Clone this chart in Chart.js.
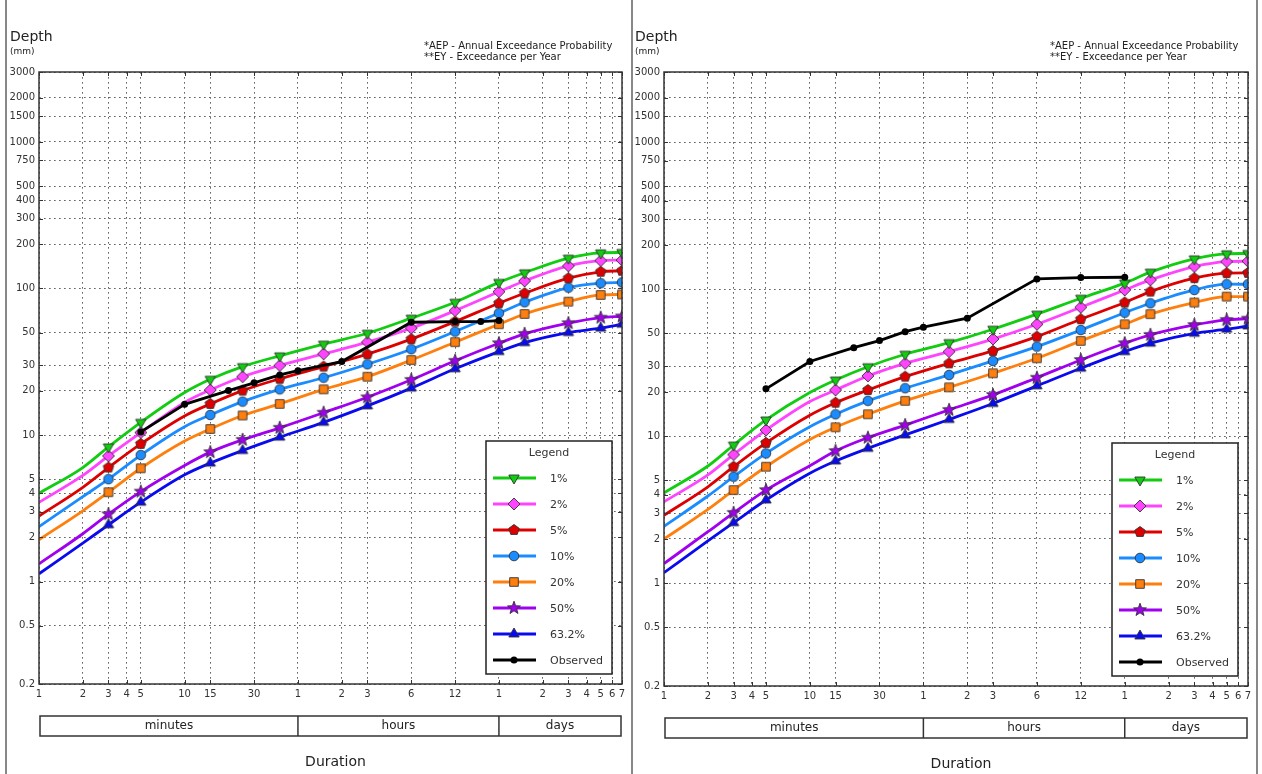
<!DOCTYPE html>
<html>
<head>
<meta charset="utf-8">
<script src="https://cdn.jsdelivr.net/npm/chart.js@4.4.1/dist/chart.umd.min.js"></script>
<style>
  html, body { margin: 0; padding: 0; background: #fff; }
  #wrap { position: relative; width: 1262px; height: 774px; overflow: hidden; }
  canvas { position: absolute; top: 0; }
  .sep { position: absolute; top: 0; width: 2px; height: 774px; background: #888; }
</style>
</head>
<body>
<div id="wrap">
  <canvas id="graficoIzq" width="632" height="774" style="left:0"></canvas>
  <canvas id="graficoDer" width="630" height="774" style="left:632px"></canvas>
  <div class="sep" style="left:5px"></div>
  <div class="sep" style="left:631px"></div>
  <div class="sep" style="left:1256px"></div>
</div>
<script>
// Duraciones en minutos (1 min .. 7 dias)
const duraciones = [1, 2, 3, 5, 10, 15, 25, 45, 90, 180, 360, 720, 1440, 2160, 4320, 7200, 10080];
// Duraciones donde se dibuja marcador
const duracionesMarcador = [3, 5, 15, 25, 45, 90, 180, 360, 720, 1440, 2160, 4320, 7200, 10080];

const series = ['1%', '2%', '5%', '10%', '20%', '50%', '63.2%'];
const serieObservada = 'Observed';

// Grafico izquierdo
const aep1Izq   = [4.0, 6.0, 8.3, 12.2, 19.5, 24.0, 29.3, 34.7, 41.7, 49.5, 62.7, 80.5, 110, 128, 161, 175, 176];
const aep2Izq   = [3.47, 5.3, 7.2, 10.4, 16.7, 20.3, 25.0, 29.8, 35.8, 43.0, 53.6, 70.6, 95, 112.5, 142.6, 155, 156];
const aep5Izq   = [2.8, 4.4, 6.0, 8.7, 13.5, 16.3, 20.1, 24.2, 29.3, 35.6, 45.1, 59.4, 79.3, 92.7, 117.5, 130, 132];
const aep10Izq  = [2.37, 3.8, 5.0, 7.3, 11.4, 13.7, 16.9, 20.5, 24.6, 30.4, 38.5, 50.8, 67.8, 80.5, 101.3, 108.6, 110];
const aep20Izq  = [1.93, 3.04, 4.07, 5.93, 9.1, 11.0, 13.6, 16.3, 20.5, 25.0, 32.5, 43, 57, 67, 81.3, 90.3, 91];
const aep50Izq  = [1.32, 2.12, 2.88, 4.11, 6.2, 7.64, 9.27, 11.2, 14.2, 18.1, 23.8, 32.1, 42.3, 49, 58, 63.2, 64.5];
const aep632Izq = [1.13, 1.83, 2.44, 3.48, 5.35, 6.43, 7.84, 9.67, 12.2, 15.8, 20.9, 28.3, 37.1, 42.7, 50, 53.6, 57];
const obsDurIzq = [5, 10, 20, 30, 45, 60, 120, 360, 720, 1080, 1440];
const obsIzq    = [10.5, 16.2, 20.1, 22.7, 25.7, 27.5, 31.7, 58.8, 59.4, 59.4, 60.4];

// Grafico derecho
const aep1Der   = [4.12, 6.27, 8.7, 12.9, 19.8, 24.1, 29.7, 36.1, 43.3, 53.4, 67.6, 86.8, 110, 130.6, 160.8, 174, 175];
const aep2Der   = [3.58, 5.45, 7.5, 11.0, 17.2, 20.6, 25.7, 31.3, 37.6, 45.8, 57.7, 75.3, 98.8, 115.6, 142.5, 154, 155];
const aep5Der   = [2.9, 4.53, 6.2, 9.0, 13.9, 16.9, 20.6, 25.4, 31.3, 38, 47.6, 62.5, 81.1, 96.3, 118.8, 128.5, 129];
const aep10Der  = [2.44, 3.92, 5.3, 7.64, 11.6, 14.1, 17.4, 21.2, 26.1, 32.5, 40.7, 52.8, 69.2, 80.2, 98.8, 108.1, 108];
const aep20Der  = [2.0, 3.18, 4.3, 6.2, 9.5, 11.5, 14.1, 17.4, 21.5, 26.8, 33.9, 44.5, 57.7, 67.6, 81.1, 89, 89];
const aep50Der  = [1.36, 2.24, 3.01, 4.3, 6.3, 7.93, 9.77, 11.9, 15.1, 19.1, 25, 33, 42.9, 48.9, 57.1, 61.8, 63];
const aep632Der = [1.18, 1.94, 2.58, 3.68, 5.6, 6.78, 8.27, 10.2, 13.0, 16.7, 22, 29, 37.6, 42.9, 50.1, 53.4, 56.2];
const obsDurDer = [5, 10, 20, 30, 45, 60, 120, 360, 720, 1440];
const obsDer    = [21, 32.2, 40, 44.7, 51.4, 55.1, 63.5, 117.5, 120, 120.5];

// Ejes
const ticksX = [1, 2, 3, 4, 5, 10, 15, 30, 60, 120, 180, 360, 720, 1440, 2880, 4320, 5760, 7200, 8640, 10080];
const etiquetasX = ['1', '2', '3', '4', '5', '10', '15', '30', '1', '2', '3', '6', '12', '1', '2', '3', '4', '5', '6', '7'];
const ticksY = [0.2, 0.5, 1, 2, 3, 4, 5, 10, 20, 30, 50, 100, 200, 300, 400, 500, 750, 1000, 1500, 2000, 3000];
const etiquetasY = ['0.2', '0.5', '1', '2', '3', '4', '5', '10', '20', '30', '50', '100', '200', '300', '400', '500', '750', '1000', '1500', '2000', '3000'];
const unidades = ['minutes', 'hours', 'days'];
const limitesUnidades = [1, 60, 1440, 10080];
const notas = ['*AEP - Annual Exceedance Probability', '**EY - Exceedance per Year'];

// Estilos de cada serie
const estilos = [
    { color: '#11cc11', forma: 'trianguloAbajo' },
    { color: '#ff44ff', forma: 'diamante' },
    { color: '#dd0000', forma: 'pentagono' },
    { color: '#1a8cff', forma: 'circulo' },
    { color: '#ff7f0e', forma: 'cuadrado' },
    { color: '#a000ee', forma: 'estrella' },
    { color: '#0a0aee', forma: 'trianguloArriba' }
];

const FUENTE = '"DejaVu Sans", sans-serif';

// Marcadores estilo matplotlib dibujados en canvas
function crearMarcador(forma, relleno) {
    const s = 16;
    const c = document.createElement('canvas');
    c.width = s; c.height = s;
    const g = c.getContext('2d');
    g.translate(s / 2, s / 2);
    g.beginPath();
    const poligono = (n, radio, inicio, radioInt) => {
        const total = radioInt ? n * 2 : n;
        for (let i = 0; i < total; i++) {
            const a = inicio + i * 2 * Math.PI / total;
            const rr = (radioInt && i % 2) ? radioInt : radio;
            const px = Math.cos(a) * rr, py = Math.sin(a) * rr;
            if (i === 0) g.moveTo(px, py); else g.lineTo(px, py);
        }
        g.closePath();
    };
    switch (forma) {
        case 'trianguloAbajo': poligono(3, 6, Math.PI / 2); break;
        case 'diamante': poligono(4, 6, -Math.PI / 2); break;
        case 'pentagono': poligono(5, 5.5, -Math.PI / 2); break;
        case 'circulo': g.arc(0, 0, 4.8, 0, Math.PI * 2); break;
        case 'cuadrado': g.rect(-4.3, -4.3, 8.6, 8.6); break;
        case 'estrella': poligono(5, 6.8, -Math.PI / 2, 2.8); break;
        case 'trianguloArriba': poligono(3, 6, -Math.PI / 2); break;
    }
    g.fillStyle = relleno;
    g.fill();
    g.lineWidth = 0.9;
    g.strokeStyle = '#333';
    g.stroke();
    return c;
}

const imagenesMarcador = estilos.map(e => crearMarcador(e.forma, e.color));

function linea(ctx, x1, y1, x2, y2) {
    ctx.beginPath();
    ctx.moveTo(x1, y1);
    ctx.lineTo(x2, y2);
    ctx.stroke();
}

function dibujarLeyenda(chart) {
    const { ctx, chartArea: a } = chart;
    const w = 126, h = 233;
    const x = a.right - 10 - w, y = a.bottom - 10 - h;
    ctx.fillStyle = '#fff';
    ctx.fillRect(x, y, w, h);
    ctx.strokeStyle = '#222';
    ctx.lineWidth = 1.5;
    ctx.strokeRect(x, y, w, h);

    ctx.fillStyle = '#333';
    ctx.font = '11px ' + FUENTE;
    ctx.textAlign = 'center';
    ctx.textBaseline = 'middle';
    ctx.fillText('Legend', x + w / 2, y + 12);

    chart.data.datasets.forEach((ds, i) => {
        const yy = y + 37 + i * 26;
        ctx.strokeStyle = ds.borderColor;
        ctx.lineWidth = 3;
        linea(ctx, x + 7, yy, x + 50, yy);
        if (i < imagenesMarcador.length) {
            const img = imagenesMarcador[i];
            ctx.drawImage(img, x + 28 - img.width / 2, yy - img.height / 2);
        } else {
            ctx.fillStyle = '#000';
            ctx.beginPath();
            ctx.arc(x + 28, yy, 3.5, 0, Math.PI * 2);
            ctx.fill();
        }
        ctx.fillStyle = '#333';
        ctx.textAlign = 'left';
        ctx.fillText(ds.label, x + 64, yy + 1);
    });
}

const decoracion = {
    id: 'decoracion',
    afterDraw(chart) {
        const { ctx, chartArea: a, scales } = chart;
        ctx.save();

        // Marco del grafico
        ctx.strokeStyle = '#333';
        ctx.lineWidth = 1.5;
        ctx.strokeRect(a.left, a.top, a.right - a.left, a.bottom - a.top);

        // Ticks interiores
        ctx.lineWidth = 1;
        ticksX.forEach(v => {
            const x = Math.round(scales.x.getPixelForValue(v)) + 0.5;
            linea(ctx, x, a.top, x, a.top + 4);
            linea(ctx, x, a.bottom, x, a.bottom - 4);
        });
        ticksY.forEach(v => {
            const y = Math.round(scales.y.getPixelForValue(v)) + 0.5;
            linea(ctx, a.left, y, a.left + 4, y);
            linea(ctx, a.right, y, a.right - 4, y);
        });

        dibujarLeyenda(chart);

        // Textos superiores
        ctx.fillStyle = '#222';
        ctx.textAlign = 'left';
        ctx.textBaseline = 'alphabetic';
        ctx.font = '14px ' + FUENTE;
        ctx.fillText('Depth', a.left - 29, 41);
        ctx.font = '9px ' + FUENTE;
        ctx.fillText('(mm)', a.left - 29, 54);
        ctx.font = '10px ' + FUENTE;
        ctx.fillText(notas[0], a.right - 198, 49);
        ctx.fillText(notas[1], a.right - 198, 60);

        // Caja de unidades
        const top = a.bottom + 32, h = 20;
        const xs = limitesUnidades.map(v => scales.x.getPixelForValue(v));
        xs[0] = a.left + 1;
        xs[3] = a.right - 1;
        ctx.strokeStyle = '#333';
        ctx.lineWidth = 1.5;
        ctx.strokeRect(xs[0], top, xs[3] - xs[0], h);
        linea(ctx, xs[1], top, xs[1], top + h);
        linea(ctx, xs[2], top, xs[2], top + h);
        ctx.fillStyle = '#222';
        ctx.font = '12px ' + FUENTE;
        ctx.textAlign = 'center';
        ctx.textBaseline = 'middle';
        unidades.forEach((u, i) => ctx.fillText(u, (xs[i] + xs[i + 1]) / 2, top + h / 2));

        ctx.font = '14px ' + FUENTE;
        ctx.fillText('Duration', (a.left + a.right) / 2 + 5, a.bottom + 78);
        ctx.restore();
    }
};

function crearGrafico(id, valores, obsDur, obsVal, relleno) {
    const datasets = series.map((nombre, i) => ({
        label: nombre,
        data: duraciones.map((d, j) => ({ x: d, y: valores[i][j] })),
        borderColor: estilos[i].color,
        backgroundColor: estilos[i].color,
        borderWidth: 2.8,
        pointStyle: imagenesMarcador[i],
        pointRadius: ctx => duracionesMarcador.includes(duraciones[ctx.dataIndex]) ? 5 : 0,
        cubicInterpolationMode: 'monotone',
        clip: 0,
        order: 1
    }));
    datasets.push({
        label: serieObservada,
        data: obsDur.map((d, j) => ({ x: d, y: obsVal[j] })),
        borderColor: '#000',
        backgroundColor: '#000',
        pointBackgroundColor: '#000',
        pointBorderWidth: 0,
        pointRadius: 3.5,
        borderWidth: 2.8,
        tension: 0,
        clip: 0,
        order: 0
    });

    const ejeFuente = { family: FUENTE, size: 10 };

    return new Chart(document.getElementById(id), {
        type: 'line',
        data: { datasets },
        options: {
            responsive: false,
            devicePixelRatio: 1,
            animation: false,
            events: [],
            layout: { padding: relleno },
            plugins: { legend: { display: false }, tooltip: { enabled: false } },
            scales: {
                x: {
                    type: 'logarithmic',
                    min: 1,
                    max: 10080,
                    afterBuildTicks: s => { s.ticks = ticksX.map(v => ({ value: v })); },
                    afterFit: s => { s.height = 30; },
                    ticks: {
                        autoSkip: false, maxRotation: 0, padding: 4, color: '#333', font: ejeFuente,
                        callback: (v, i) => etiquetasX[i]
                    },
                    grid: { color: '#666', lineWidth: 1, drawTicks: false },
                    border: { display: false, dash: [1.7, 3.3] }
                },
                y: {
                    type: 'logarithmic',
                    min: 0.2,
                    max: 3000,
                    afterBuildTicks: s => { s.ticks = ticksY.map(v => ({ value: v })); },
                    afterFit: s => { s.width = relleno.ancho; },
                    ticks: {
                        autoSkip: false, padding: 4, color: '#333', font: ejeFuente,
                        callback: (v, i) => etiquetasY[i]
                    },
                    grid: { color: '#666', lineWidth: 1, drawTicks: false },
                    border: { display: false, dash: [1.7, 3.3] }
                }
            }
        },
        plugins: [decoracion]
    });
}

crearGrafico('graficoIzq',
    [aep1Izq, aep2Izq, aep5Izq, aep10Izq, aep20Izq, aep50Izq, aep632Izq],
    obsDurIzq, obsIzq,
    { left: 5, right: 10, top: 72, bottom: 60, ancho: 34 });

crearGrafico('graficoDer',
    [aep1Der, aep2Der, aep5Der, aep10Der, aep20Der, aep50Der, aep632Der],
    obsDurDer, obsDer,
    { left: 0, right: 14, top: 72, bottom: 58, ancho: 32 });
</script>
</body>
</html>
